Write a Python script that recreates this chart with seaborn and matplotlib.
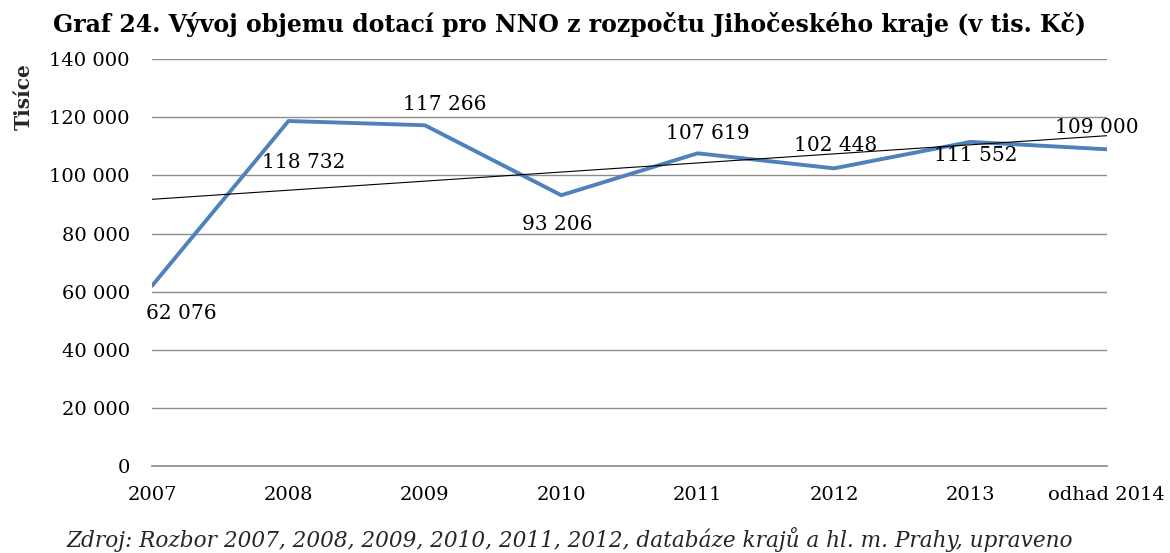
import numpy as np
import pandas as pd
import matplotlib
matplotlib.use('Agg')
import matplotlib.pyplot as plt
from matplotlib.ticker import FuncFormatter, MultipleLocator
import seaborn as sns

# data
years = ['2007', '2008', '2009', '2010', '2011', '2012', '2013', 'odhad 2014']
dotace = [62076, 118732, 117266, 93206, 107619, 102448, 111552, 109000]

# label placement (offset in points from the data point)
label_dx = [21, 11, 14, -3, 7, 1, 4, -7]
label_dy = [-20, -30, 15, -21, 14, 16.5, -10, 16]

sns.set_theme(style='white')
plt.rcParams['font.family'] = ['DejaVu Serif']

df = pd.DataFrame({'idx': np.arange(len(years)), 'value': dotace})

fig = plt.figure(figsize=(11.7, 5.53), dpi=100)
ax = fig.add_axes([0.130, 0.157, 0.816, 0.736])

def fmt(v, pos=None):
    return f'{int(v):,}'.replace(',', ' ')

ax.yaxis.set_major_locator(MultipleLocator(20000))
ax.set_ylim(0, 140000)
ax.set_xlim(0, len(years) - 1)
ax.grid(axis='y', color='#8c8c8c', linewidth=1.0)
ax.set_axisbelow(True)

sns.lineplot(data=df, x='idx', y='value', ax=ax, color='#4F81BD', linewidth=2.8, zorder=3)

# linear trend like Excel
k, q = np.polyfit(df['idx'], df['value'], 1)
ax.plot(df['idx'], k * df['idx'] + q, color='black', linewidth=0.8, zorder=4)

for i, v in enumerate(dotace):
    ax.annotate(fmt(v), (i, v), xytext=(label_dx[i], label_dy[i]), textcoords='offset points',
                ha='center', va='center', fontsize=14.5, color='black', zorder=5)

ax.set_xticks(df['idx'])
ax.set_xticklabels(years)
ax.yaxis.set_major_formatter(FuncFormatter(fmt))
ax.tick_params(axis='both', labelsize=14, colors='black', length=0)
ax.tick_params(axis='x', pad=14)
ax.tick_params(axis='y', pad=16)
ax.set_xlabel('')
ax.set_ylabel('')
for s in ['top', 'right', 'left']:
    ax.spines[s].set_visible(False)
ax.spines['bottom'].set_color('#8c8c8c')

fig.text(0.0199, 0.826, 'Tisíce', rotation=90, fontsize=14.5, fontweight='bold',
         ha='center', va='center')
fig.text(0.487, 0.955, 'Graf 24. Vývoj objemu dotací pro NNO z rozpočtu Jihočeského kraje (v tis. Kč)',
         fontsize=17, fontweight='bold', ha='center', va='center', color='black')
fig.text(0.487, 0.025, 'Zdroj: Rozbor 2007, 2008, 2009, 2010, 2011, 2012, databáze krajů a hl. m. Prahy, upraveno',
         fontsize=15.6, style='italic', ha='center', va='center')

fig.savefig('out.png', dpi=100, facecolor='white')
